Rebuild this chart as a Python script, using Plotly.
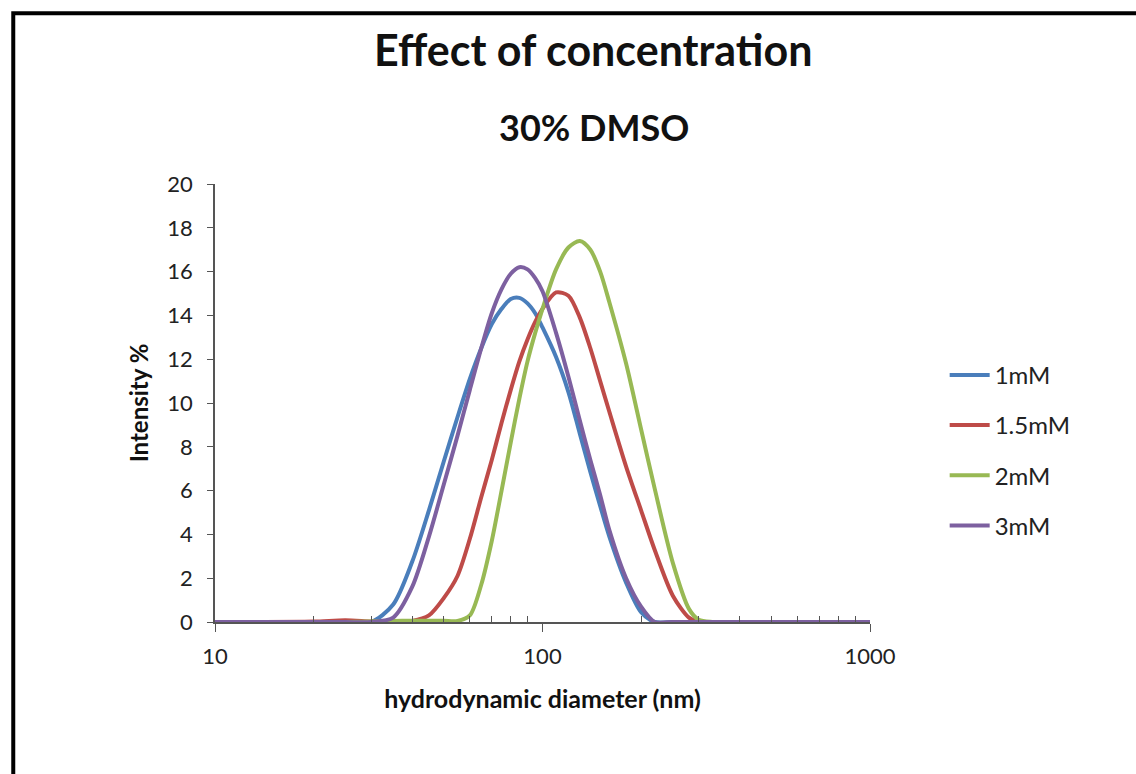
import plotly.graph_objects as go

# hydrodynamic diameter (nm)
diameter = [10, 20, 25, 30, 35, 40, 45, 50, 55, 60, 65, 70, 75, 80, 85, 90, 95, 100,
            110, 120, 130, 140, 150, 160, 180, 200, 220, 250, 280, 300, 330, 400, 600, 1000]

int_1mM = [0, 0, 0.02, 0, 0.8, 2.75, 5.1, 7.35, 9.35, 11.1, 12.5, 13.6, 14.3, 14.75, 14.8, 14.55, 14.1, 13.45,
           12.1, 10.5, 8.6, 6.85, 5.3, 3.9, 1.8, 0.45, 0, 0, 0, 0, 0, 0, 0, 0]
int_1p5mM = [0, 0.02, 0.08, 0.02, 0, 0.05, 0.3, 1.1, 2.1, 3.8, 5.7, 7.4, 9.1, 10.6, 11.9, 12.9, 13.7, 14.3,
             15.05, 14.9, 13.9, 12.5, 11.0, 9.6, 7.1, 5.1, 3.3, 1.2, 0.2, 0, 0, 0, 0, 0]
int_2mM = [0, 0, 0, 0.02, 0.05, 0.06, 0.06, 0.06, 0.05, 0.3, 1.7, 3.7, 6.0, 8.2, 10.2, 11.9, 13.2, 14.3,
           16.1, 17.1, 17.4, 17.0, 16.0, 14.6, 11.8, 8.8, 6.1, 2.7, 0.6, 0.1, 0, 0, 0, 0]
int_3mM = [0, 0, 0, 0, 0.2, 1.6, 3.9, 6.3, 8.5, 10.6, 12.5, 14.1, 15.2, 15.9, 16.2, 16.1, 15.7, 15.1,
           13.2, 11.2, 9.2, 7.4, 5.8, 4.2, 2.0, 0.7, 0, 0, 0, 0, 0, 0, 0, 0]

series_names = ["1mM", "1.5mM", "2mM", "3mM"]
series_values = [int_1mM, int_1p5mM, int_2mM, int_3mM]
series_colors = ["#4A7EBB", "#BE4B48", "#98B954", "#7D60A0"]

x_ticks = [10, 100, 1000]
x_minor = [20, 30, 40, 50, 60, 70, 80, 90, 200, 300, 400, 500, 600, 700, 800, 900]
y_ticks = list(range(0, 21, 2))

FONT = "Lato, 'Open Sans', sans-serif"

fig = go.Figure()
for name, vals, col in zip(series_names, series_values, series_colors):
    fig.add_trace(go.Scatter(
        x=diameter, y=vals, name=name, mode="lines",
        line=dict(color=col, width=4, shape="spline", smoothing=0.8),
        legendgroup=name,
    ))

fig.update_layout(
    width=1136, height=774,
    margin=dict(l=215, r=266, t=184, b=152),
    paper_bgcolor="white", plot_bgcolor="white",
    font=dict(family=FONT, color="#222222"),
    showlegend=True,
    legend=dict(x=1.114, y=0.392, xanchor="left", yanchor="middle",
                font=dict(size=24, family=FONT, color="#222222"),
                tracegroupgap=16, bgcolor="rgba(0,0,0,0)", itemwidth=40),
    xaxis=dict(type="log", range=[1, 3], tickvals=x_ticks, ticktext=[str(v) for v in x_ticks],
               showgrid=False, zeroline=False, showline=True, linecolor="#555555", linewidth=1.5,
               ticks="outside", ticklen=8, tickcolor="#555555", ticklabelstandoff=6,
               tickfont=dict(size=22, family=FONT, color="#222222"),
               minor=dict(tickvals=x_minor, ticks="inside", ticklen=6, tickcolor="#555555", showgrid=False),
               title=dict(text="<b>hydrodynamic diameter (nm)</b>", font=dict(size=25, family=FONT, color="#111111"),
                          standoff=22)),
    yaxis=dict(range=[0, 20], tickvals=y_ticks, showgrid=False, zeroline=False,
               showline=True, linecolor="#555555", linewidth=1.5,
               ticks="outside", ticklen=6, tickcolor="#555555", ticklabelstandoff=10,
               tickfont=dict(size=22, family=FONT, color="#222222"),
               title=dict(text="<b>Intensity %</b>", font=dict(size=24, family=FONT, color="#111111"),
                          standoff=12)),
    annotations=[
        dict(text="<b>Effect of concentration</b>", x=0.578, y=1.306, xref="paper", yref="paper",
             showarrow=False, font=dict(size=43, family=FONT, color="#111111"), xanchor="center", yanchor="middle"),
        dict(text="<b>30% DMSO</b>", x=0.578, y=1.131, xref="paper", yref="paper",
             showarrow=False, font=dict(size=36, family=FONT, color="#111111"), xanchor="center", yanchor="middle"),
    ],
    shapes=[
        dict(type="rect", xref="paper", yref="paper", x0=-0.308, y0=-0.40, x1=1.45, y1=1.390,
             line=dict(color="black", width=4), fillcolor="rgba(0,0,0,0)", layer="above"),
    ],
)

fig.write_html("out.html")
